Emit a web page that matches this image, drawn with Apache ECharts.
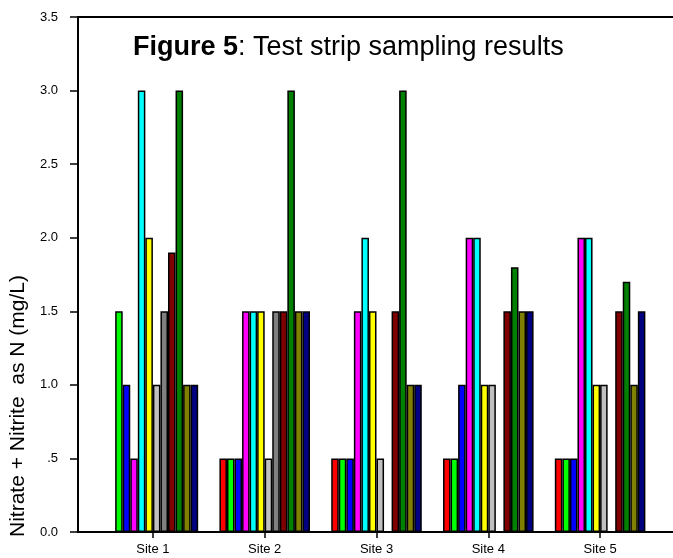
<!DOCTYPE html>
<html>
<head>
<meta charset="utf-8">
<script src="https://cdn.jsdelivr.net/npm/echarts@6/dist/echarts.min.js"></script>
<style>html,body{margin:0;padding:0;background:#fff;}#c{width:673px;height:558px;}</style>
</head>
<body>
<div id="c"></div>
<script>
const categories = ['Site 1', 'Site 2', 'Site 3', 'Site 4', 'Site 5'];
const yTicks = [0, 0.5, 1.0, 1.5, 2.0, 2.5, 3.0, 3.5];
const seriesColors = ['#ff0000', '#00ff00', '#0000ff', '#ff00ff', '#00ffff', '#ffff00', '#c0c0c0', '#808080', '#800000', '#008000', '#808000', '#000080'];
const s1 = [0, 0.5, 0.5, 0.5, 0.5];
const s2 = [1.5, 0.5, 0.5, 0.5, 0.5];
const s3 = [1.0, 0.5, 0.5, 1.0, 0.5];
const s4 = [0.5, 1.5, 1.5, 2.0, 2.0];
const s5 = [3.0, 1.5, 2.0, 2.0, 2.0];
const s6 = [2.0, 1.5, 1.5, 1.0, 1.0];
const s7 = [1.0, 0.5, 0.5, 1.0, 1.0];
const s8 = [1.5, 1.5, 0, 0, 0];
const s9 = [1.9, 1.5, 1.5, 1.5, 1.5];
const s10 = [3.0, 3.0, 3.0, 1.8, 1.7];
const s11 = [1.0, 1.5, 1.0, 1.5, 1.0];
const s12 = [1.0, 1.5, 1.0, 1.5, 1.5];
const allSeries = [s1, s2, s3, s4, s5, s6, s7, s8, s9, s10, s11, s12];

const font = 'Liberation Sans, Arial, sans-serif';
const chart = echarts.init(document.getElementById('c'));
chart.setOption({
  animation: false,
  backgroundColor: '#fff',
  title: {
    text: '{b|Figure 5}{n|: Test strip sampling results}',
    left: 128, top: 29,
    textStyle: {
      fontWeight: 'normal',
      rich: {
        b: {fontFamily: font, fontSize: 27, fontWeight: 'bold', color: '#000'},
        n: {fontFamily: font, fontSize: 27, fontWeight: 'normal', color: '#000'}
      }
    }
  },
  grid: [
    {left: 78, right: 0, top: 17, bottom: 26},
    {left: 97, right: 17, top: 17, bottom: 26},
    {left: 78, right: 0, top: 258, bottom: 4}
  ],
  xAxis: [
    {type: 'value', gridIndex: 0, min: 0, max: 1, position: 'bottom',
     axisLine: {show: true, lineStyle: {color: '#000', width: 2}},
     axisTick: {show: false}, axisLabel: {show: false}, splitLine: {show: false}},
    {type: 'value', gridIndex: 0, min: 0, max: 1, position: 'top',
     axisLine: {show: true, lineStyle: {color: '#000', width: 2}},
     axisTick: {show: false}, axisLabel: {show: false}, splitLine: {show: false}},
    {type: 'category', gridIndex: 1, data: categories, boundaryGap: true,
     axisLine: {show: false},
     axisTick: {show: true, alignWithLabel: true, length: 6, lineStyle: {color: '#000', width: 1.5}},
     axisLabel: {fontFamily: font, fontSize: 13, color: '#000', margin: 11}},
    {type: 'value', gridIndex: 2, show: false}
  ],
  yAxis: [
    {type: 'value', gridIndex: 0, min: 0, max: 3.5, interval: 0.5,
     axisLine: {show: true, lineStyle: {color: '#000', width: 2}},
     axisTick: {show: true, inside: false, length: 8, lineStyle: {color: '#000', width: 1.5}},
     axisLabel: {fontFamily: font, fontSize: 13, color: '#000', margin: 20,
       formatter: v => (v === 0.5 ? '.5' : v.toFixed(1))},
     splitLine: {show: false}},
    {type: 'value', gridIndex: 1, min: 0, max: 3.5, interval: 0.5, show: false},
    {type: 'value', gridIndex: 2, min: 0, max: 1,
     axisLine: {show: false}, axisTick: {show: false}, axisLabel: {show: false}, splitLine: {show: false},
     name: 'Nitrate + Nitrite  as N (mg/L)', nameLocation: 'middle', nameGap: 52,
     nameTextStyle: {fontFamily: font, fontSize: 21, color: '#000'}}
  ],
  series: allSeries.map((d, i) => ({
    type: 'bar', xAxisIndex: 2, yAxisIndex: 1, data: d,
    barGap: '0%', barCategoryGap: '19%',
    itemStyle: {color: seriesColors[i], borderColor: '#000', borderWidth: 1.5}
  }))
});
</script>
</body>
</html>
